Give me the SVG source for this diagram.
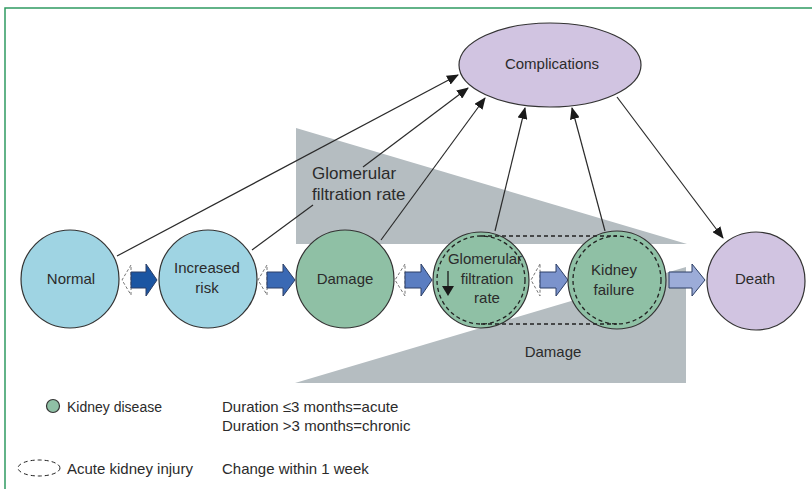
<svg xmlns="http://www.w3.org/2000/svg" width="812" height="489" viewBox="0 0 812 489">
<defs>
<style>
text{font-family:"Liberation Sans",Arial,sans-serif;fill:#2b2b2b;}
.lbl{font-size:15px;text-anchor:middle;}
.leg{font-size:15px;}
.tri{fill:#b5bdc1;stroke:none;}
.blue{fill:#9fd4e3;stroke:#333;stroke-width:1.2;}
.green{fill:#8fc0a5;stroke:#333;stroke-width:1.2;}
.purple{fill:#d1c4e1;stroke:#333;stroke-width:1.2;}
.dash{fill:none;stroke:#222;stroke-width:1.3;stroke-dasharray:4 3;}
.aki{fill:#fff;stroke:#777;stroke-width:1;stroke-dasharray:3 2;}
.conn{fill:none;stroke:#2b2b2b;stroke-width:1.2;}
.barrow{stroke:#2c3f66;stroke-width:1;}
</style>
<marker id="ah" markerWidth="12" markerHeight="10" refX="11" refY="5" orient="auto" markerUnits="userSpaceOnUse">
<path d="M0,0 L12,5 L0,10 Z" fill="#1a1a1a"/>
</marker>
</defs>
<rect x="0" y="0" width="812" height="489" fill="#fff"/>
<rect x="5" y="8" width="830" height="500" fill="none" stroke="#2f9a62" stroke-width="1.5"/>

<g id="triangles">
<polygon class="tri" points="296,128 296,244 687,244"/>
<polygon class="tri" points="295,383 686,383 686,267"/>
<text x="312" y="179" style="font-size:17px">Glomerular</text>
<text x="312" y="200" style="font-size:17px">filtration rate</text>
<text class="lbl" x="553" y="357">Damage</text>
</g>

<g id="connectors">
<line class="conn" x1="117" y1="256" x2="458" y2="75" marker-end="url(#ah)"/>
<line class="conn" x1="252" y1="250" x2="313" y2="205"/>
<line class="conn" x1="363" y1="167" x2="468" y2="88" marker-end="url(#ah)"/>
<line class="conn" x1="381" y1="240" x2="485" y2="98" marker-end="url(#ah)"/>
<line class="conn" x1="495" y1="231" x2="525" y2="108" marker-end="url(#ah)"/>
<line class="conn" x1="605" y1="231" x2="572" y2="108" marker-end="url(#ah)"/>
<line class="conn" x1="617" y1="97" x2="723" y2="238" marker-end="url(#ah)"/>
<g id="block-arrows">
<polygon class="aki" points="131,265 122,280 131,295"/>
<polygon class="barrow" fill="#1b55a2" points="131,272 146,272 146,264 157,280 146,296 146,288 131,288"/>
<polygon class="aki" points="267,265 258,280 267,295"/>
<polygon class="barrow" fill="#3a69b4" points="267,272 283,272 283,264 295,280 283,296 283,288 267,288"/>
<polygon class="aki" points="405,264 395,280 405,296"/>
<polygon class="barrow" fill="#5a7dc1" points="405,272 421,272 421,264 432,280 421,296 421,288 405,288"/>
<polygon class="aki" points="540,264 531,280 540,296"/>
<polygon class="barrow" fill="#7b93cc" points="540,272 556,272 556,264 568,280 556,296 556,288 540,288"/>
<polygon class="barrow" fill="#9cacd8" points="669,272 692,272 692,264 705,280 692,296 692,288 669,288"/>
</g>
</g>

<g id="complications">
<ellipse class="purple" cx="550" cy="65" rx="91" ry="42"/>
<text class="lbl" x="552" y="69">Complications</text>
</g>
<g id="normal">
<circle class="blue" cx="70" cy="279" r="49"/>
<text class="lbl" x="71" y="284">Normal</text>
</g>
<g id="increased-risk">
<circle class="blue" cx="208" cy="279" r="49"/>
<text class="lbl" x="207" y="273">Increased</text>
<text class="lbl" x="207" y="293">risk</text>
</g>
<g id="damage">
<circle class="green" cx="345" cy="279" r="49"/>
<text class="lbl" x="345" y="284">Damage</text>
</g>
<g id="gfr">
<circle class="green" cx="481" cy="280" r="48"/>
<text class="lbl" x="485" y="264">Glomerular</text>
<text class="lbl" x="487" y="284">filtration</text>
<text class="lbl" x="487" y="303">rate</text>
<line x1="448" y1="271" x2="448" y2="287" stroke="#1a1a1a" stroke-width="1.3"/>
<polygon points="442,286 454,286 448,296" fill="#1a1a1a"/>
</g>
<g id="kidney-failure">
<circle class="green" cx="617" cy="280" r="49"/>
<text class="lbl" x="614" y="275">Kidney</text>
<text class="lbl" x="614" y="295">failure</text>
</g>
<g id="aki-outline">
<circle class="dash" cx="481" cy="280" r="44"/>
<circle class="dash" cx="617" cy="280" r="44"/>
<line class="dash" x1="481" y1="236" x2="617" y2="236"/>
<line class="dash" x1="481" y1="324" x2="617" y2="324"/>
</g>
<g id="death">
<circle class="purple" cx="756" cy="281" r="49"/>
<text class="lbl" x="755" y="284">Death</text>
</g>

<g id="legend">
<circle class="green" cx="53" cy="406" r="6.5"/>
<text class="leg" x="67" y="412" style="font-size:14px">Kidney disease</text>
<text class="leg" x="222" y="412">Duration ≤3 months=acute</text>
<text class="leg" x="222" y="431">Duration &gt;3 months=chronic</text>
<ellipse class="dash" cx="39" cy="468" rx="21" ry="8" style="stroke-width:1"/>
<text class="leg" x="67" y="474">Acute kidney injury</text>
<text class="leg" x="222" y="474">Change within 1 week</text>
</g>
</svg>
